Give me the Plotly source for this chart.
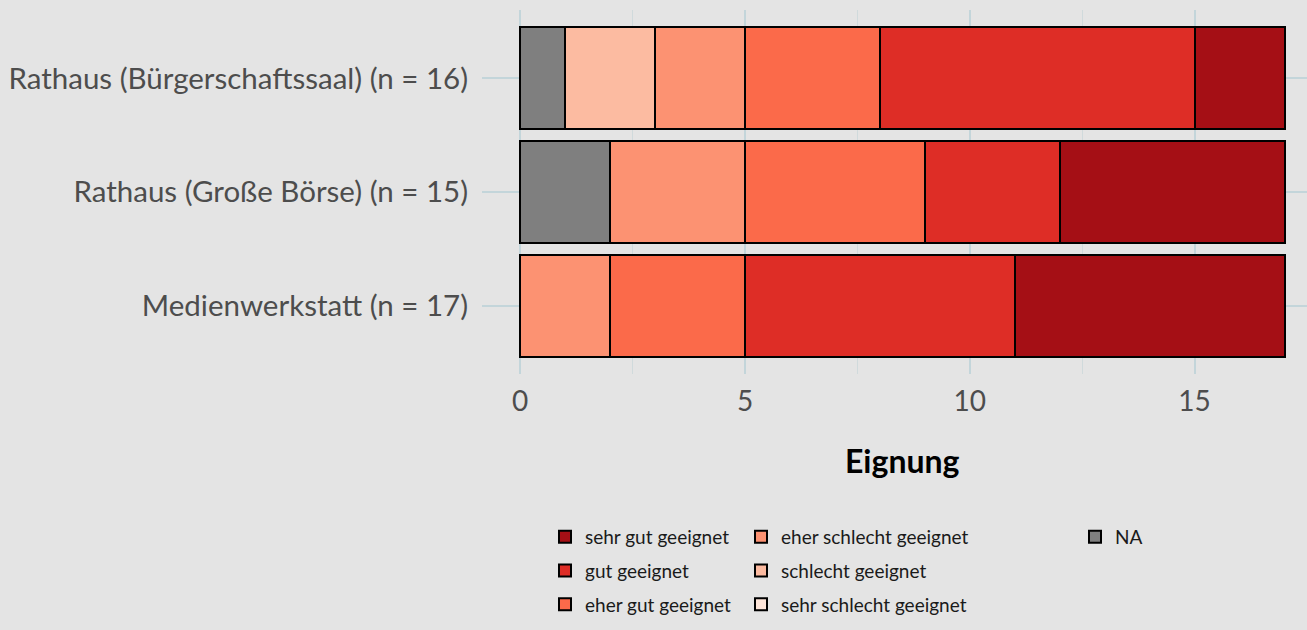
import plotly.graph_objects as go

categories = ["Rathaus (Bürgerschaftssaal) (n = 16)",
              "Rathaus (Große Börse) (n = 15)",
              "Medienwerkstatt (n = 17)"]

# stacking order, left to right
levels = ["NA", "sehr schlecht geeignet", "schlecht geeignet", "eher schlecht geeignet",
          "eher gut geeignet", "gut geeignet", "sehr gut geeignet"]

counts_na = [1, 2, 0]
counts_sehr_schlecht = [0, 0, 0]
counts_schlecht = [2, 0, 0]
counts_eher_schlecht = [2, 3, 2]
counts_eher_gut = [3, 4, 3]
counts_gut = [7, 3, 6]
counts_sehr_gut = [2, 5, 6]

x_tick_values = [0, 5, 10, 15]
x_tick_labels = ["0", "5", "10", "15"]
x_minor_values = [2.5, 7.5, 12.5]

colors = {"NA": "#7F7F7F",
          "sehr schlecht geeignet": "#FEE5D9",
          "schlecht geeignet": "#FCBBA1",
          "eher schlecht geeignet": "#FC9272",
          "eher gut geeignet": "#FB6A4A",
          "gut geeignet": "#DE2D26",
          "sehr gut geeignet": "#A50F15"}

# legend column and row within column
legend_of = {"NA": ("legend3", 1),
             "sehr schlecht geeignet": ("legend2", 3),
             "schlecht geeignet": ("legend2", 2),
             "eher schlecht geeignet": ("legend2", 1),
             "eher gut geeignet": ("legend", 3),
             "gut geeignet": ("legend", 2),
             "sehr gut geeignet": ("legend", 1)}

values = [counts_na, counts_sehr_schlecht, counts_schlecht, counts_eher_schlecht,
          counts_eher_gut, counts_gut, counts_sehr_gut]

BG = "#E4E4E4"
GRID = "#C3D5DA"
FONT = "Lato"
W, H = 1307, 630
ML, MR, MT, MB = 482, 0, 10, 256
PW, PH = W - ML - MR, H - MT - MB

fig = go.Figure()
for lvl, vals in zip(levels, values):
    leg, rank = legend_of[lvl]
    fig.add_trace(go.Bar(
        y=categories, x=vals, orientation="h", name=lvl,
        marker=dict(color=colors[lvl], line=dict(color="black", width=2)),
        legend=leg, legendgroup=lvl, legendrank=rank, hoverinfo="x+y+name",
    ))

def legend_at(px_left, px_top):
    return dict(orientation="v", traceorder="grouped", bgcolor="rgba(0,0,0,0)",
                font=dict(family=FONT, size=19, color="#1A1A1A"),
                xref="paper", yref="paper", xanchor="left", yanchor="top",
                x=(px_left - ML) / PW, y=-(px_top - (MT + PH)) / PH,
                itemclick=False, tracegroupgap=6)

fig.update_layout(
    width=W, height=H,
    barmode="stack", bargap=0.1,
    paper_bgcolor=BG, plot_bgcolor=BG,
    margin=dict(l=ML, r=MR, t=MT, b=MB),
    font=dict(family=FONT, size=29, color="#4D4D4D"),
    xaxis=dict(range=[-0.85, 17.5], tickvals=x_tick_values, ticktext=x_tick_labels,
               showgrid=True, gridcolor=GRID, gridwidth=2, zeroline=False,
               minor=dict(tickvals=x_minor_values, showgrid=True, gridcolor="#D0DADC", gridwidth=1),
               ticks="outside", ticklen=2, tickcolor=BG,
               tickfont=dict(family=FONT, size=28, color="#4D4D4D"), fixedrange=True),
    yaxis=dict(categoryorder="array", categoryarray=categories, range=[2.6, -0.6],
               showgrid=True, gridcolor=GRID, gridwidth=2, zeroline=False,
               ticks="outside", ticklen=7, tickcolor=BG,
               tickfont=dict(family=FONT, size=29.5, color="#4D4D4D"), fixedrange=True),
    legend=legend_at(545, 518),
    legend2=legend_at(741, 518),
    legend3=legend_at(1075, 518),
    annotations=[dict(text="<b>Eignung</b>", xref="x", x=8.5, yref="paper",
                      y=-(460 - (MT + PH)) / PH,
                      xanchor="center", yanchor="middle", showarrow=False,
                      font=dict(family=FONT, size=32, color="black"))],
)

fig.write_html("out.html", config={"displayModeBar": False},
               post_script="document.body.style.margin='0';document.body.style.background='%s';" % BG)
